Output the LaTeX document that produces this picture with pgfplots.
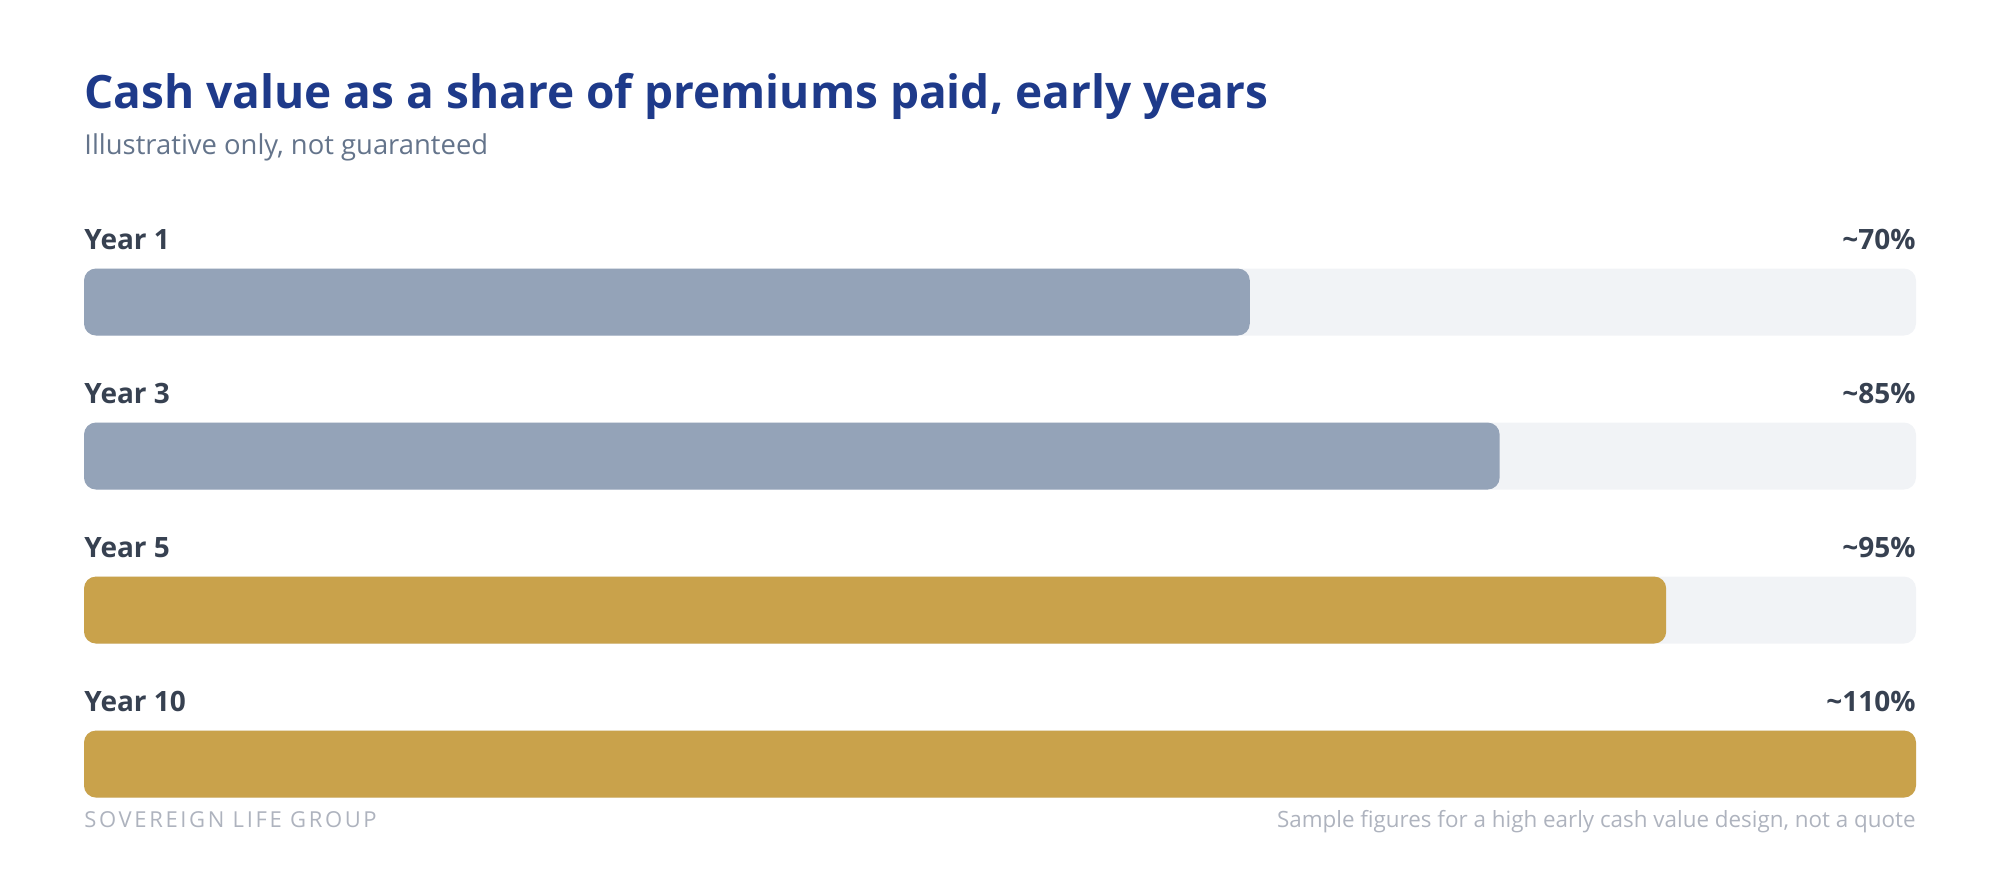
\documentclass[border=0pt]{standalone}
\usepackage{pgfplots}
\pgfplotsset{compat=1.18}
\usepackage{fontspec}
\setmainfont{Open Sans}

\definecolor{titleblue}{HTML}{1E3A8A}
\definecolor{subgray}{HTML}{64748B}
\definecolor{labelgray}{HTML}{374151}
\definecolor{footgray}{HTML}{AEB3BE}
\definecolor{track}{HTML}{F1F3F6}
\definecolor{slatebar}{HTML}{94A3B8}
\definecolor{goldbar}{HTML}{C9A24B}

\begin{document}
\begin{tikzpicture}
  % page frame
  \path[use as bounding box] (0pt,0pt) rectangle (1000pt,-440pt);

  % title block
  \node[anchor=base west, inner sep=0pt, text=titleblue,
        font=\fontsize{23pt}{27pt}\selectfont\bfseries]
    at (42pt,-54pt) {Cash value as a share of premiums paid, early years};
  \node[anchor=base west, inner sep=0pt, text=subgray,
        font=\fontsize{13.7pt}{16pt}\selectfont]
    at (42pt,-77pt) {Illustrative only, not guaranteed};

  \begin{axis}[
      at={(42pt,0pt)}, anchor=north west,
      scale only axis, width=916pt, height=440pt,
      xmin=0, xmax=110,
      ymin=-1.961, ymax=3.753, y dir=reverse,
      axis lines=none, ticks=none, clip=false,
      xbar, bar width=33.5pt, bar shift=0pt,
      every axis plot/.append style={draw=none, rounded corners=6pt},
    ]
    % full-scale track behind each bar
    \addplot[fill=track] coordinates {(110,0) (110,1) (110,2) (110,3)};
    % cash value, % of premiums paid
    \addplot[fill=slatebar] coordinates {(70,0) (85,1)};
    \addplot[fill=goldbar] coordinates {(95,2) (110,3)};

    \foreach \i/\lab/\val in {0/Year 1/70, 1/Year 3/85, 2/Year 5/95, 3/Year 10/110} {
      \edef\temp{\noexpand\node[anchor=base west, inner sep=0pt, text=labelgray,
          font=\noexpand\fontsize{14pt}{17pt}\noexpand\selectfont\noexpand\bfseries]
        at (axis cs:0,\i-0.344) {\lab};
      \noexpand\node[anchor=base east, inner sep=0pt, text=labelgray,
          font=\noexpand\fontsize{14pt}{17pt}\noexpand\selectfont\noexpand\bfseries]
        at (axis cs:110,\i-0.344) {\noexpand\textasciitilde\val\noexpand\%};}
      \temp
    }
  \end{axis}

  % footer
  \node[anchor=base west, inner sep=0pt, text=footgray,
        font=\fontsize{11pt}{13pt}\selectfont\addfontfeatures{LetterSpace=12}]
    at (42pt,-413.5pt) {SOVEREIGN LIFE GROUP};
  \node[anchor=base east, inner sep=0pt, text=footgray,
        font=\fontsize{11.2pt}{13pt}\selectfont]
    at (958pt,-413.5pt) {Sample figures for a high early cash value design, not a quote};
\end{tikzpicture}
\end{document}
